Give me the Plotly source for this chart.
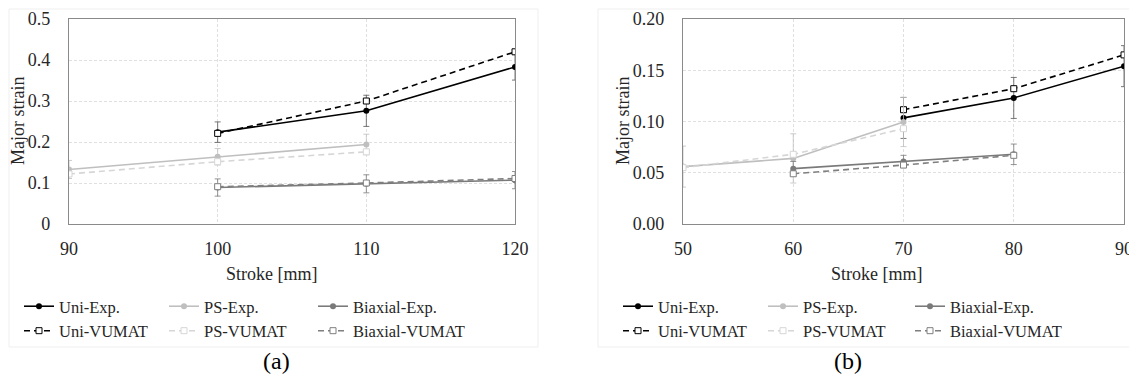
import plotly.graph_objects as go

# ---------------- data: panel (a) ----------------
a_stroke_uni = [100, 110, 120]
a_uni_exp = [0.224, 0.276, 0.383]
a_uni_exp_err = [0.025, 0.038, 0.032]
a_uni_vumat = [0.221, 0.300, 0.420]

a_stroke_ps = [90, 100, 110]
a_ps_exp = [0.133, 0.164, 0.194]
a_ps_exp_err = [0.022, 0.020, 0.025]
a_ps_vumat = [0.122, 0.152, 0.176]

a_stroke_bi = [100, 110, 120]
a_bi_exp = [0.089, 0.098, 0.107]
a_bi_exp_err = [0.021, 0.022, 0.021]
a_bi_vumat = [0.091, 0.100, 0.111]

# ---------------- data: panel (b) ----------------
b_stroke_uni = [70, 80, 90]
b_uni_exp = [0.1035, 0.123, 0.154]
b_uni_exp_err = [0.020, 0.020, 0.020]
b_uni_vumat = [0.1115, 0.132, 0.165]

b_stroke_ps = [50, 60, 70]
b_ps_exp = [0.056, 0.064, 0.0995]
b_ps_exp_err = [0.020, 0.024, 0.024]
b_ps_vumat = [0.055, 0.068, 0.093]

b_stroke_bi = [60, 70, 80]
b_bi_exp = [0.054, 0.061, 0.068]
b_bi_exp_err = [0.007, 0.006, 0.010]
b_bi_vumat = [0.049, 0.0575, 0.067]

a_yticks = [0, 0.1, 0.2, 0.3, 0.4, 0.5]
b_yticks = [0, 0.05, 0.10, 0.15, 0.20]
a_xticks = [90, 100, 110, 120]
b_xticks = [50, 60, 70, 80, 90]

names = ["Uni-Exp.", "Uni-VUMAT", "PS-Exp.", "PS-VUMAT", "Biaxial-Exp.", "Biaxial-VUMAT"]

# ---------------- styling ----------------
FONT = "Liberation Serif"
TXT = "#262626"
C_UNI = "#000000"
C_PS = "#bfbfbf"
C_PS_V = "#d6d6d6"
C_BI = "#7a7a7a"
C_BI_V = "#7f7f7f"

# page body has an 8px default margin, so the figure is sized to fit the window
OFF = 8
W, H = 1137 - OFF, 381 - OFF


def px_x(p):
    return (p - OFF) / W


def px_y(p):
    return 1 - (p - OFF) / H


fig = go.Figure()


def add_pair(x, y_exp, err, y_vum, name_exp, name_vum, c_exp, c_vum, xa, ya, leg, grp):
    fig.add_trace(go.Scatter(
        x=x, y=y_exp, name=name_exp, mode="lines+markers", xaxis=xa, yaxis=ya,
        legend=leg, legendgroup=grp,
        line=dict(color=c_exp, width=1.6),
        marker=dict(symbol="circle", size=6, color=c_exp),
        error_y=dict(type="data", array=err, visible=True, color=c_exp if c_exp != C_UNI else "#555555",
                     thickness=0.8, width=3),
    ))
    fig.add_trace(go.Scatter(
        x=x, y=y_vum, name=name_vum, mode="lines+markers", xaxis=xa, yaxis=ya,
        legend=leg, legendgroup=grp,
        line=dict(color=c_vum, width=1.6, dash="6px,4px"),
        marker=dict(symbol="square", size=6, color="white", line=dict(color=c_vum, width=1)),
    ))


add_pair(a_stroke_uni, a_uni_exp, a_uni_exp_err, a_uni_vumat, names[0], names[1], C_UNI, C_UNI, "x", "y", "legend", "a1")
add_pair(a_stroke_ps, a_ps_exp, a_ps_exp_err, a_ps_vumat, names[2], names[3], C_PS, C_PS_V, "x", "y", "legend2", "a2")
add_pair(a_stroke_bi, a_bi_exp, a_bi_exp_err, a_bi_vumat, names[4], names[5], C_BI, C_BI_V, "x", "y", "legend3", "a3")

add_pair(b_stroke_uni, b_uni_exp, b_uni_exp_err, b_uni_vumat, names[0], names[1], C_UNI, C_UNI, "x2", "y2", "legend4", "b1")
add_pair(b_stroke_ps, b_ps_exp, b_ps_exp_err, b_ps_vumat, names[2], names[3], C_PS, C_PS_V, "x2", "y2", "legend5", "b2")
add_pair(b_stroke_bi, b_bi_exp, b_bi_exp_err, b_bi_vumat, names[4], names[5], C_BI, C_BI_V, "x2", "y2", "legend6", "b3")

axis_common = dict(
    showline=True, linecolor="#8a8a8a", linewidth=1.4, mirror=True,
    showgrid=True, gridcolor="#e0e0e0", griddash="3px,2px", gridwidth=1,
    zeroline=False, ticks="", automargin=False,
    tickfont=dict(family=FONT, size=18, color=TXT),
)

top, bottom = 19, 224
fig.update_layout(
    width=W, height=H,
    margin=dict(l=0, r=0, t=0, b=0, autoexpand=False),
    paper_bgcolor="white", plot_bgcolor="white",
    font=dict(family=FONT, color=TXT),
    xaxis=dict(domain=[px_x(69), px_x(515)], range=[90, 120], tickvals=a_xticks,
               anchor="y", ticklabelstandoff=8, **axis_common),
    yaxis=dict(domain=[px_y(bottom), px_y(top)], range=[0, 0.5], tickvals=a_yticks,
               anchor="x", ticklabelstandoff=14, **axis_common),
    xaxis2=dict(domain=[px_x(683), px_x(1124)], range=[50, 90], tickvals=b_xticks,
                anchor="y2", ticklabelstandoff=8, **axis_common),
    yaxis2=dict(domain=[px_y(bottom), px_y(top)], range=[0, 0.2], tickvals=b_yticks,
                tickformat=".2f", anchor="x2", ticklabelstandoff=14, **axis_common),
)

leg_y = px_y(289)
leg_common = dict(orientation="v", yanchor="top", xanchor="left", y=leg_y,
                  font=dict(family=FONT, size=16.5, color=TXT), bgcolor="rgba(0,0,0,0)",
                  itemwidth=30, tracegroupgap=0)
for name, xp in [("legend", 19), ("legend2", 164), ("legend3", 313),
                 ("legend4", 618), ("legend5", 763), ("legend6", 910)]:
    fig.update_layout({name: dict(x=px_x(xp), **leg_common)})

ann = [
    dict(text="Major strain", x=px_x(18), y=px_y(121), textangle=-90),
    dict(text="Major strain", x=px_x(623), y=px_y(121), textangle=-90),
    dict(text="Stroke [mm]", x=px_x(272), y=px_y(274)),
    dict(text="Stroke [mm]", x=px_x(877), y=px_y(274)),
]
for a in ann:
    fig.add_annotation(xref="paper", yref="paper", showarrow=False,
                       xanchor="center", yanchor="middle",
                       font=dict(family=FONT, size=18, color=TXT), **a)
for t, xp in [("(a)", 276), ("(b)", 848)]:
    fig.add_annotation(text=t, xref="paper", yref="paper", x=px_x(xp), y=px_y(361),
                       showarrow=False, xanchor="center", yanchor="middle",
                       font=dict(family=FONT, size=24, color="#000000"))

# faint chart-area borders
for x0, x1 in [(9, 538), (598, 1136)]:
    fig.add_shape(type="rect", xref="paper", yref="paper",
                  x0=px_x(x0), x1=px_x(x1), y0=px_y(347), y1=px_y(9),
                  line=dict(color="#efefef", width=1), layer="below")

fig.write_html("out.html")
